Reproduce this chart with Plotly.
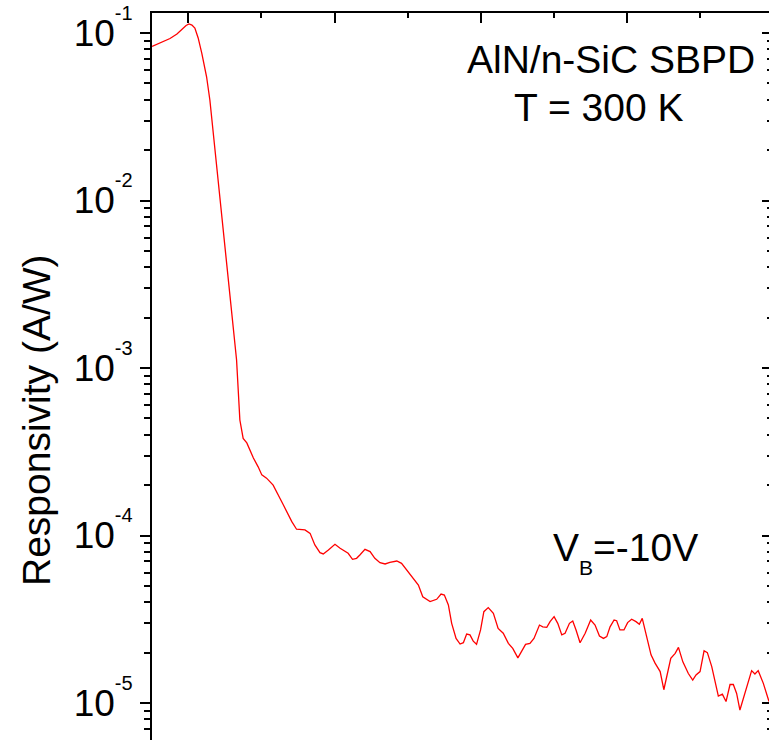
import plotly.graph_objects as go

# Spectral responsivity of AlN/n-SiC SBPD (wavelength in nm, responsivity in A/W)
wavelength_nm = [
    190.1, 192.8, 195.0, 196.9, 198.3, 199.4, 200.2, 201.0, 201.8, 202.7,
    203.7, 205.0, 205.9, 207.3, 208.7, 210.0, 211.4, 213.2, 214.1, 215.0,
    216.0, 217.8, 219.1, 220.1, 221.4, 223.2, 226.0, 228.3, 229.6, 231.9,
    233.3, 234.6, 236.0, 236.9, 238.3, 240.1, 241.5, 243.7, 244.9, 246.0,
    246.9, 248.3, 249.7, 251.0, 252.4, 253.8, 255.1, 257.0, 258.3, 259.7,
    261.5, 262.9, 264.1, 266.1, 267.9, 269.1, 270.0, 271.1, 272.0, 273.2,
    274.3, 275.2, 276.1, 277.0, 277.9, 278.8, 279.9, 280.8, 282.0, 283.4,
    284.7, 286.1, 287.5, 288.7, 290.1, 291.1, 292.2, 293.4, 294.5, 296.0,
    296.9, 298.0, 298.9, 300.0, 301.0, 302.1, 303.0, 304.2, 305.1, 306.0,
    307.1, 308.5, 310.0, 311.2, 312.4, 313.5, 314.4, 315.3, 316.4, 317.1,
    318.0, 319.1, 320.1, 321.2, 322.4, 323.3, 324.1, 325.3, 326.5, 327.6,
    329.0, 330.0, 330.9, 331.9, 333.1, 334.0, 335.2, 336.7, 337.9, 338.8,
    339.9, 341.0, 341.9, 343.1, 344.9, 346.0, 347.0, 348.1, 349.0, 349.9,
    350.8, 352.2, 354.0, 354.9, 355.8, 357.2, 358.75,
]
responsivity_aw = [
    8.31e-2, 8.78e-2, 9.27e-2, 9.86e-2, 1.049e-1, 1.109e-1, 1.132e-1, 1.116e-1, 1.071e-1, 9.34e-2,
    7.56e-2, 5.48e-2, 3.98e-2, 2.00e-2, 1.007e-2, 5.06e-3, 2.547e-3, 1.117e-3, 4.89e-4, 3.80e-4,
    3.57e-4, 2.90e-4, 2.57e-4, 2.30e-4, 2.20e-4, 2.00e-4, 1.52e-4, 1.21e-4, 1.09e-4, 1.08e-4,
    1.03e-4, 8.78e-5, 7.90e-5, 7.76e-5, 8.19e-5, 8.86e-5, 8.39e-5, 7.83e-5, 7.21e-5, 7.31e-5,
    7.65e-5, 8.27e-5, 8.01e-5, 7.31e-5, 6.88e-5, 6.76e-5, 6.92e-5, 7.04e-5, 6.82e-5, 6.22e-5,
    5.55e-5, 5.06e-5, 4.31e-5, 4.03e-5, 4.16e-5, 4.47e-5, 4.41e-5, 3.85e-5, 2.99e-5, 2.43e-5,
    2.25e-5, 2.29e-5, 2.58e-5, 2.55e-5, 2.34e-5, 2.24e-5, 2.73e-5, 3.51e-5, 3.71e-5, 3.43e-5,
    2.79e-5, 2.61e-5, 2.27e-5, 2.12e-5, 1.86e-5, 2.02e-5, 2.24e-5, 2.27e-5, 2.43e-5, 2.92e-5,
    2.85e-5, 2.83e-5, 3.06e-5, 3.28e-5, 2.99e-5, 2.55e-5, 2.61e-5, 2.99e-5, 3.09e-5, 2.73e-5,
    2.29e-5, 2.61e-5, 3.13e-5, 2.92e-5, 2.51e-5, 2.43e-5, 2.49e-5, 2.85e-5, 3.13e-5, 3.10e-5,
    2.73e-5, 2.73e-5, 3.02e-5, 3.16e-5, 3.06e-5, 2.95e-5, 3.20e-5, 2.49e-5, 1.94e-5, 1.73e-5,
    1.54e-5, 1.20e-5, 1.50e-5, 1.85e-5, 1.98e-5, 2.15e-5, 1.76e-5, 1.50e-5, 1.37e-5, 1.47e-5,
    1.54e-5, 2.05e-5, 2.00e-5, 1.65e-5, 1.10e-5, 1.13e-5, 1.02e-5, 1.29e-5, 1.29e-5, 1.14e-5,
    9.08e-6, 1.14e-5, 1.56e-5, 1.49e-5, 1.56e-5, 1.31e-5, 1.02e-5,
]

y_major_vals = [1e-5, 1e-4, 1e-3, 1e-2, 1e-1]
y_exponents = ["-5", "-4", "-3", "-2", "-1"]
x_major_vals = [200, 240, 280, 320]
x_minor_vals = [220, 260, 300, 340]

FONT = "Liberation Sans, Arial, sans-serif"

y_major_text = [
    "10<sup><sup><span style='font-size:20px'>%s</span></sup></sup>" % e
    for e in y_exponents
]
y_minor_vals = [m * 10.0 ** k for k in range(-6, 0) for m in range(2, 10)]

W, H = 769, 740
ML, MR, MT, MB = 152, 0, 13, 0
PW, PH = W - ML - MR, H - MT - MB


def px(x):
    return (x - ML) / PW


def py(y):
    return 1 - (y - MT) / PH


fig = go.Figure()
fig.add_trace(go.Scatter(
    x=wavelength_nm, y=responsivity_aw, mode="lines",
    line=dict(color="#ff0000", width=1.3), showlegend=False,
))
# empty trace to anchor the neighbouring panel's axis on the right edge
fig.add_trace(go.Scatter(x=[], y=[], yaxis="y2", showlegend=False))

fig.update_layout(
    width=W, height=H,
    margin=dict(l=ML, r=MR, t=MT, b=MB),
    paper_bgcolor="white", plot_bgcolor="white",
    font=dict(family=FONT, color="black"),
    xaxis=dict(
        side="top", range=[190.08, 358.75], showgrid=False, zeroline=False,
        showline=True, linecolor="black", linewidth=2,
        ticks="inside", ticklen=10, tickwidth=2, tickcolor="black",
        tickvals=x_major_vals, showticklabels=False,
        minor=dict(ticks="inside", ticklen=5, tickwidth=2, tickcolor="black",
                   tickvals=x_minor_vals, showgrid=False),
    ),
    yaxis=dict(
        type="log", range=[-5.2209, -0.8806], showgrid=False, zeroline=False,
        showline=True, linecolor="black", linewidth=2,
        ticks="outside", ticklen=10, tickwidth=2, tickcolor="black",
        tickvals=y_major_vals, ticktext=y_major_text,
        tickfont=dict(family=FONT, size=37, color="black"),
        minor=dict(ticks="outside", ticklen=6, tickwidth=2, tickcolor="black",
                   tickvals=y_minor_vals, showgrid=False),
    ),
    yaxis2=dict(
        type="log", range=[-5.2209, -0.8806], overlaying="y", side="right",
        showgrid=False, zeroline=False, showline=False,
        ticks="inside", ticklen=7, tickwidth=2, tickcolor="black",
        tickvals=y_major_vals, showticklabels=False,
        minor=dict(ticks="inside", ticklen=2, tickwidth=1.5, tickcolor="black",
                   tickvals=y_minor_vals, showgrid=False),
    ),
)

fig.add_annotation(
    text="Responsivity (A/W)", textangle=-90,
    xref="paper", yref="paper", x=px(36), y=py(420),
    xanchor="center", yanchor="middle", showarrow=False,
    font=dict(family=FONT, size=39, color="black"),
)
fig.add_annotation(
    text="AlN/n-SiC SBPD", xref="paper", yref="paper",
    x=px(757), y=py(60), xanchor="right", yanchor="middle", showarrow=False,
    font=dict(family=FONT, size=39, color="black"),
)
fig.add_annotation(
    text="T = 300 K", xref="paper", yref="paper",
    x=px(598), y=py(108), xanchor="center", yanchor="middle", showarrow=False,
    font=dict(family=FONT, size=39, color="black"),
)
fig.add_annotation(
    text="V<sub><sub><span style='font-size:21px'>B</span></sub></sub>=-10V",
    xref="paper", yref="paper",
    x=px(551), y=py(552), xanchor="left", yanchor="middle", showarrow=False,
    font=dict(family=FONT, size=39, color="black"),
)

fig.write_html("out.html")
